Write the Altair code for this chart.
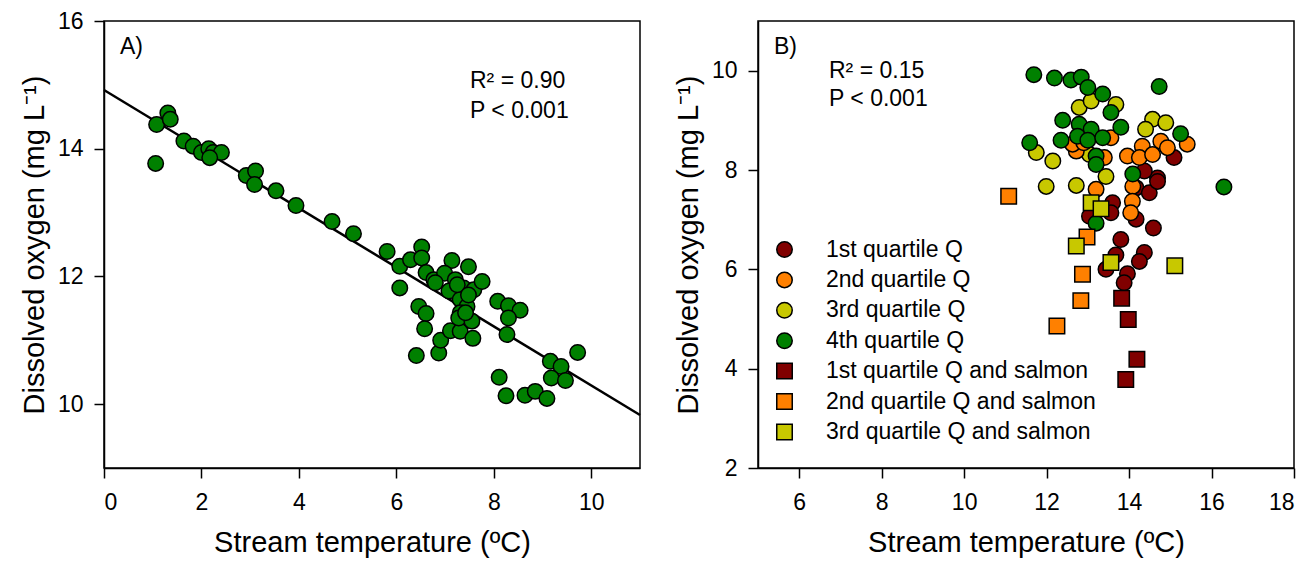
import altair as alt
import pandas as pd

FONT = "Liberation Sans"

# ---------------- Panel A data ----------------
a_temp = [1.08, 1.31, 1.36, 1.06, 1.64, 1.83, 2.00, 2.15, 2.24, 2.41, 2.17, 2.92, 3.11, 3.09,
          3.53, 3.94, 4.68, 5.12, 5.81, 6.07, 6.07, 6.29, 6.52, 6.52, 6.61, 6.77, 6.46, 6.61,
          6.58, 6.41, 6.87, 6.91, 7.11, 7.31, 7.14, 6.99, 7.21, 7.08, 7.48, 7.38, 7.59, 7.76,
          7.31, 7.45, 7.31, 7.28, 7.55, 7.57, 8.08, 8.30, 8.54, 8.30, 8.27, 9.72, 9.16, 9.38,
          9.18, 9.47, 8.11, 8.25, 8.64, 8.85, 9.09, 6.80, 7.25, 7.48, 7.42]
a_do = [14.38, 14.56, 14.46, 13.77, 14.12, 14.04, 13.94, 14.00, 13.94, 13.94, 13.86, 13.58, 13.65, 13.44,
        13.34, 13.11, 12.86, 12.67, 12.39, 12.16, 11.82, 12.26, 12.46, 12.29, 12.06, 11.95, 11.53, 11.42,
        11.18, 10.76, 10.80, 11.00, 11.15, 11.14, 12.25, 12.05, 11.95, 11.77, 12.15, 11.82, 11.79, 11.92,
        11.64, 11.53, 11.43, 11.35, 11.30, 11.03, 11.61, 11.54, 11.47, 11.35, 11.09, 10.81, 10.67, 10.59,
        10.41, 10.37, 10.42, 10.13, 10.14, 10.20, 10.09, 11.90, 11.87, 11.71, 11.43]
fit_temp = [0, 11]
fit_do = [14.92, 9.83]

# ---------------- Panel B data ----------------
labels = ["1st quartile Q", "2nd quartile Q", "3rd quartile Q", "4th quartile Q",
          "1st quartile Q and salmon", "2nd quartile Q and salmon", "3rd quartile Q and salmon"]
colors = ["#800000", "#FF8000", "#C8C800", "#008000", "#800000", "#FF8000", "#C8C800"]
shapes = ["circle", "circle", "circle", "circle", "square", "square", "square"]

q1_temp = [15.09, 14.69, 14.37, 14.17, 14.49, 14.69, 13.60, 13.04, 13.56, 14.17, 14.59, 13.80,
           13.68, 14.37, 14.25, 13.44, 13.96, 13.88]
q1_do = [8.25, 7.84, 7.98, 7.64, 7.54, 7.77, 7.34, 7.07, 7.14, 7.01, 6.83, 6.60,
         6.29, 6.34, 6.16, 6.00, 5.91, 5.73]
q3_temp = [12.79, 13.08, 13.68, 14.57, 14.89, 14.40, 11.75, 12.15, 13.44, 11.99, 12.72, 13.04]
q3_do = [9.26, 9.39, 9.32, 9.02, 8.95, 8.82, 8.35, 8.18, 7.87, 7.67, 7.69, 8.31]
q2_temp = [15.41, 14.77, 14.93, 14.32, 13.96, 14.25, 14.57, 13.56, 13.40, 12.72, 13.20, 14.09,
           12.63, 14.08, 14.04, 12.90]
q2_do = [8.52, 8.58, 8.45, 8.48, 8.28, 8.25, 8.31, 8.65, 8.25, 8.38, 7.61, 7.67,
         8.52, 7.37, 7.14, 8.55]
q4_temp = [11.69, 12.19, 12.59, 12.84, 13.00, 13.36, 14.73, 13.56, 13.80, 12.39, 12.79, 13.08,
           12.35, 12.75, 13.00, 13.36, 11.59, 15.25, 13.20, 13.20, 14.09, 13.20, 16.30]
q4_do = [9.92, 9.85, 9.81, 9.87, 9.66, 9.53, 9.68, 9.16, 8.86, 9.00, 8.92, 8.82,
         8.60, 8.68, 8.60, 8.65, 8.55, 8.73, 8.28, 8.11, 7.92, 6.93, 7.66]
s1_temp = [13.82, 13.98, 14.19, 13.92]
s1_do = [5.42, 4.99, 4.19, 3.78]
s2_temp = [11.08, 12.98, 12.87, 12.83, 12.25]
s2_do = [7.47, 6.65, 5.90, 5.37, 4.86]
s3_temp = [13.08, 13.32, 12.72, 13.56, 15.11]
s3_do = [7.34, 7.22, 6.47, 6.14, 6.07]

# ---------------- Build tables ----------------
df_a = pd.DataFrame({"temp": a_temp, "do": a_do})
df_fit = pd.DataFrame({"temp": fit_temp, "do": fit_do})

rows = []
for lab, t, d in [(labels[0], q1_temp, q1_do), (labels[2], q3_temp, q3_do),
                  (labels[1], q2_temp, q2_do), (labels[3], q4_temp, q4_do),
                  (labels[4], s1_temp, s1_do), (labels[5], s2_temp, s2_do),
                  (labels[6], s3_temp, s3_do)]:
    for ti, di in zip(t, d):
        rows.append({"temp": ti, "do": di, "group": lab})
df_b = pd.DataFrame(rows)

W, H = 536, 447
ytitle = "Dissolved oxygen (mg L\u207B\u00B9)"
xtitle = "Stream temperature (\u00BAC)"

def text_layer(items):
    df = pd.DataFrame(items)
    return alt.Chart(df).mark_text(align="left", baseline="middle", font=FONT,
                                   fontSize=23, color="black").encode(
        x=alt.X("px:Q", scale=None), y=alt.Y("py:Q", scale=None), text="t:N")

# ---------------- Panel A ----------------
xa = alt.X("temp:Q", scale=alt.Scale(domain=[0, 11], nice=False, zero=False),
           axis=alt.Axis(values=[0, 2, 4, 6, 8, 10], title=xtitle))
ya = alt.Y("do:Q", scale=alt.Scale(domain=[9, 16], nice=False, zero=False),
           axis=alt.Axis(values=[10, 12, 14, 16], title=ytitle))

line_a = alt.Chart(df_fit).mark_line(color="black", strokeWidth=2.5).encode(x=xa, y=ya)
pts_a = alt.Chart(df_a).mark_circle(size=240, fill="#008000", stroke="black", strokeWidth=1.5,
                                    opacity=1, fillOpacity=1).encode(x=xa, y=ya)
txt_a = text_layer([{"px": 16, "py": 26, "t": "A)"},
                    {"px": 366, "py": 60, "t": "R\u00B2 = 0.90"},
                    {"px": 366, "py": 90, "t": "P < 0.001"}])
panel_a = alt.layer(line_a, pts_a, txt_a).properties(width=W, height=H)

# ---------------- Panel B ----------------
xb = alt.X("temp:Q", scale=alt.Scale(domain=[5, 18], nice=False, zero=False),
           axis=alt.Axis(values=[6, 8, 10, 12, 14, 16, 18], title=xtitle))
yb = alt.Y("do:Q", scale=alt.Scale(domain=[2, 11], nice=False, zero=False),
           axis=alt.Axis(values=[2, 4, 6, 8, 10], title=ytitle))

legend = alt.Legend(orient="none", legendX=15, legendY=217, labelFontSize=23, labelFont=FONT,
                    labelColor="black", labelLimit=500, symbolSize=240,
                    symbolStrokeWidth=1.5, rowPadding=6.4, labelOffset=30, padding=0)
pts_b = alt.Chart(df_b).mark_point(filled=True, stroke="black", size=240, strokeWidth=1.5,
                                   opacity=1, fillOpacity=1, strokeOpacity=1).encode(
    x=xb, y=yb,
    color=alt.Color("group:N", scale=alt.Scale(domain=labels, range=colors), legend=legend, title=None),
    shape=alt.Shape("group:N", scale=alt.Scale(domain=labels, range=shapes), legend=legend, title=None),
)
txt_b = text_layer([{"px": 16, "py": 26, "t": "B)"},
                    {"px": 71, "py": 50, "t": "R\u00B2 = 0.15"},
                    {"px": 71, "py": 78, "t": "P < 0.001"}])
panel_b = alt.layer(pts_b, txt_b).properties(width=W, height=H)

chart = alt.hconcat(panel_a, panel_b, spacing=118, bounds="flush").resolve_legend(
    color="independent", shape="independent"
).properties(
    padding={"left": 19, "top": 9, "right": 10, "bottom": 5}
).configure_view(
    stroke="black", strokeWidth=1.5
).configure_axis(
    grid=False, domainColor="black", domainWidth=1.5, tickColor="black", tickWidth=1.5,
    tickSize=10, labelColor="black", titleColor="black", labelFont=FONT, titleFont=FONT,
    labelFontSize=23, titleFontSize=29, titleFontWeight="normal"
).configure_axisY(titlePadding=8, labelPadding=11).configure_axisX(titlePadding=14, labelPadding=13)

chart.save("out.html", embed_options={"renderer": "svg", "actions": False})
